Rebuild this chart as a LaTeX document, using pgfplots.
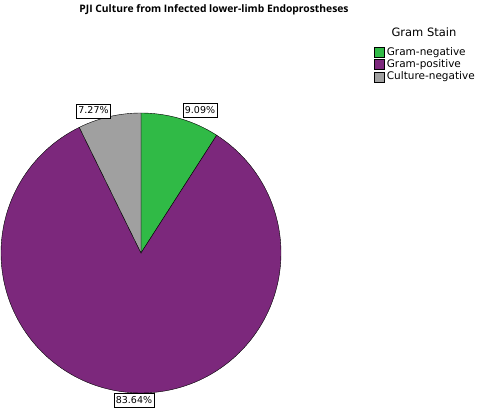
\documentclass[border=0pt]{standalone}
\usepackage{fontspec}
\setmainfont{DejaVu Sans}
\newfontfamily\titlefont{Open Sans}
\usepackage{pgfplots}
\pgfplotsset{compat=1.18}
\definecolor{cneg}{RGB}{48,186,70}
\definecolor{cpos}{RGB}{124,40,124}
\definecolor{cgray}{RGB}{160,160,160}
\pgfplotsset{sq/.style={legend image code/.code={\draw[##1,draw=black,line width=0.4pt] (0pt,-5pt) rectangle (10pt,5pt);}}}
\tikzset{lbl/.style={draw=black, fill=white, line width=0.45pt, inner xsep=2pt, inner ysep=2.3pt,
  text height=7.3pt, text depth=2.2pt, font=\fontsize{9.5}{10}\selectfont}}
\begin{document}
\begin{tikzpicture}
% data (percent)
\def\vneg{9.09}
\def\vpos{83.64}
\def\vcul{7.27}
\pgfmathsetmacro{\aA}{90}
\pgfmathsetmacro{\aB}{90-3.6*\vneg}
\pgfmathsetmacro{\aC}{\aB-3.6*\vpos}
\pgfmathsetmacro{\aD}{\aC-3.6*\vcul}
\begin{axis}[scale only axis, width=480pt, height=416pt,
  xmin=0, xmax=480, ymin=0, ymax=416, axis lines=none, clip=false,
  legend style={at={(axis cs:374,370.2)}, anchor=north west, draw=none, fill=none,
    font=\fontsize{10.5}{11}\selectfont, row sep=0pt, inner sep=0pt,
    nodes={inner sep=0.75pt, text height=8.5pt, text depth=2.3pt},
    /tikz/every odd column/.style={column sep=1.5pt}},
  legend cell align=left]
\path (axis cs:0,0) rectangle (axis cs:480,416);
\addplot[sq, fill=cneg, draw=black, line width=0.4pt, domain=\aB:\aA, samples=40, variable=\t]
  ({141+140*cos(t)},{163+140*sin(t)}) -- (axis cs:141,163) -- cycle;
\addlegendentry{Gram-negative}
\addplot[sq, fill=cpos, draw=black, line width=0.4pt, domain=\aC:\aB, samples=200, variable=\t]
  ({141+140*cos(t)},{163+140*sin(t)}) -- (axis cs:141,163) -- cycle;
\addlegendentry{Gram-positive}
\addplot[sq, fill=cgray, draw=black, line width=0.4pt, domain=\aD:\aC, samples=30, variable=\t]
  ({141+140*cos(t)},{163+140*sin(t)}) -- (axis cs:141,163) -- cycle;
\addlegendentry{Culture-negative}
\node[font=\titlefont\bfseries\fontsize{10.3}{12}\selectfont] at (axis cs:214,406) {PJI Culture from Infected lower-limb Endoprostheses};
\node[font=\fontsize{11.5}{12}\selectfont] at (axis cs:424,383.5) {Gram Stain};
\node[lbl] at (axis cs:200,305.5) {9.09\%};
\node[lbl] at (axis cs:93.5,305) {7.27\%};
\node[lbl] at (axis cs:134,15.5) {83.64\%};
\end{axis}
\end{tikzpicture}
\end{document}
